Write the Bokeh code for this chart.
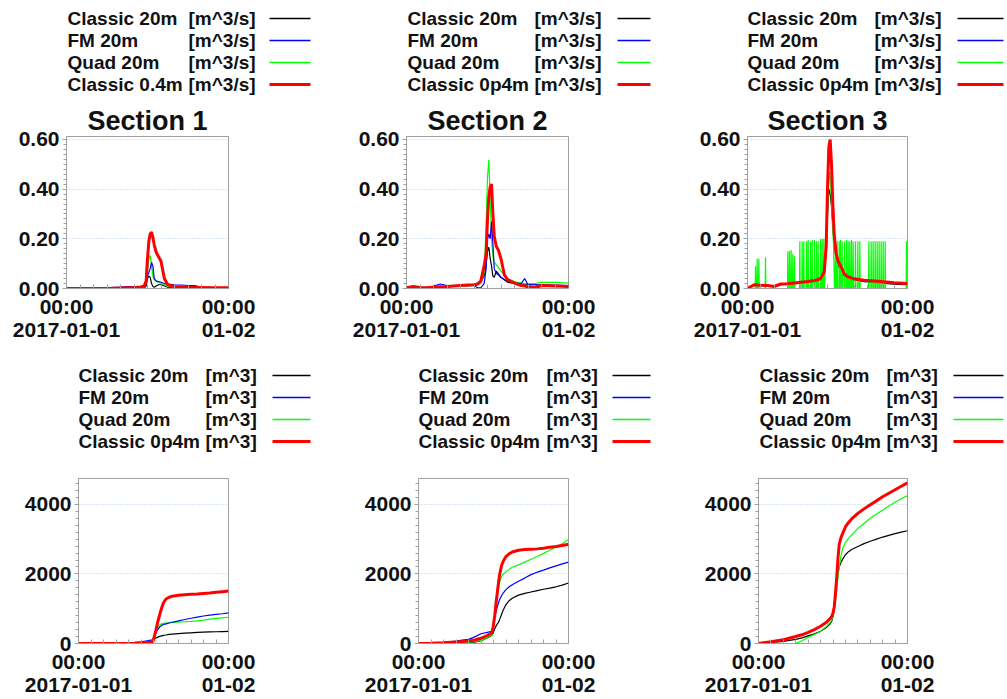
from bokeh.plotting import figure
from bokeh.models import Range1d, FixedTicker, ColumnDataSource
from bokeh.layouts import row, column
from bokeh.embed import file_html
from bokeh.resources import INLINE
from bokeh.core.properties import value

FONT = "Liberation Sans"

# ------------------------------------------------------------------ data
section_titles = ["Section 1", "Section 2", "Section 3"]
series_colors = ["#000000", "#0000ff", "#00ff00", "#ff0000"]
series_widths = [1.2, 1.2, 1.2, 3.0]
draw_order = [0, 2, 1, 3]
q_names = [
    ["Classic 20m", "FM 20m", "Quad 20m", "Classic 0.4m"],
    ["Classic 20m", "FM 20m", "Quad 20m", "Classic 0p4m"],
    ["Classic 20m", "FM 20m", "Quad 20m", "Classic 0p4m"],
]
q_unit = "[m^3/s]"
v_names = ["Classic 20m", "FM 20m", "Quad 20m", "Classic 0p4m"]
v_unit = "[m^3]"

x_tick_hours = [0, 24]
x_tick_labels = ["00:00\n2017-01-01", "00:00\n01-02"]
q_tick_values = [0, 0.2, 0.4, 0.6]
q_tick_labels = ["0.00", "0.20", "0.40", "0.60"]
v_tick_values = [0, 2000, 4000]
v_tick_labels = ["0", "2000", "4000"]

# discharge [m^3/s], hours since 2017-01-01 00:00
hours_q = [0, 1, 2, 3, 4, 5, 6, 7, 8, 9, 10, 10.5, 11, 11.5, 11.8, 12.0, 12.2, 12.4, 12.6, 12.8,
           13.0, 13.3, 13.6, 14.0, 14.5, 15, 16, 17, 17.5, 18, 19, 20, 22, 24]

s1_classic20 = [0, 0, 0, 0, 0, 0, 0, 0, 0, 0.001, 0.001, 0.001, 0.001, 0.002, 0.01, 0.04, 0.05, 0.045, 0.02, 0.008,
                0.005, 0.01, 0.015, 0.015, 0.01, 0.005, 0.003, 0.002, 0.002, 0.002, 0.002, 0.002, 0.002, 0.002]
s1_fm20 = [0, 0, 0, 0, 0, 0, 0.002, 0.005, 0.006, 0.008, 0.008, 0.008, 0.008, 0.01, 0.02, 0.05, 0.065, 0.08, 0.105, 0.09,
           0.04, 0.03, 0.028, 0.025, 0.02, 0.018, 0.015, 0.014, 0.013, 0.012, 0.012, 0.005, 0.004, 0.003]
s1_quad20 = [0, 0, 0, 0, 0, 0, 0, 0, 0, 0, 0.001, 0.002, 0.003, 0.005, 0.02, 0.07, 0.12, 0.133, 0.09, 0.05,
             0.035, 0.03, 0.025, 0.02, 0.015, 0.008, 0.005, 0.004, 0.004, 0.003, 0.003, 0.003, 0.003, 0.003]
s1_classic04 = [0, 0, 0, 0, 0, 0, 0, 0.001, 0.002, 0.003, 0.004, 0.005, 0.006, 0.01, 0.03, 0.12, 0.19, 0.22, 0.227, 0.205,
                0.175, 0.145, 0.13, 0.11, 0.04, 0.015, 0.008, 0.006, 0.005, 0.005, 0.004, 0.004, 0.003, 0.003]

s2_classic20 = [0.003, 0.004, 0.004, 0.005, 0.005, 0.006, 0.007, 0.008, 0.009, 0.01, 0.012, 0.015, 0.025, 0.05, 0.1, 0.15, 0.166, 0.12, 0.09, 0.05,
                0.045, 0.07, 0.06, 0.045, 0.035, 0.025, 0.02, 0.018, 0.016, 0.015, 0.015, 0.012, 0.01, 0.01]
s2_fm20 = [0, 0, 0, 0, 0.01, 0.018, 0.012, 0.012, 0.013, 0.014, 0.012, 0.003, 0.003, 0.02, 0.08, 0.2, 0.22, 0.2, 0.27, 0.18,
           0.08, 0.06, 0.055, 0.045, 0.035, 0.03, 0.022, 0.02, 0.04, 0.015, 0.015, 0.015, 0.014, 0.012]
s2_quad20 = [0.003, 0.003, 0.003, 0.004, 0.005, 0.006, 0.007, 0.009, 0.01, 0.011, 0.012, 0.015, 0.02, 0.06, 0.25, 0.45, 0.518, 0.35, 0.2, 0.13,
             0.105, 0.095, 0.085, 0.07, 0.055, 0.04, 0.028, 0.022, 0.02, 0.02, 0.02, 0.025, 0.025, 0.022]
s2_classic04 = [0.003, 0.008, 0.004, 0.003, 0.005, 0.007, 0.008, 0.01, 0.012, 0.014, 0.015, 0.018, 0.03, 0.09, 0.14, 0.28, 0.37, 0.41, 0.42, 0.3,
                0.21, 0.17, 0.155, 0.12, 0.055, 0.035, 0.022, 0.012, 0.01, 0.007, 0.003, 0.012, 0.01, 0.008]

s3_classic20 = [0, 0.012, 0.011, 0.01, 0.007, 0.015, 0.017, 0.019, 0.022, 0.025, 0.028, 0.031, 0.037, 0.058, 0.15, 0.3, 0.4, 0.38, 0.33, 0.25,
                0.18, 0.12, 0.09, 0.075, 0.05, 0.042, 0.035, 0.03, 0.028, 0.027, 0.024, 0.022, 0.018, 0.015]
s3_fm20 = [0] * 34
s3_classic04 = [0, 0.015, 0.013, 0.012, 0.008, 0.018, 0.019, 0.022, 0.025, 0.028, 0.032, 0.035, 0.042, 0.065, 0.17, 0.4, 0.57, 0.6, 0.5, 0.34,
                0.22, 0.14, 0.11, 0.09, 0.06, 0.048, 0.039, 0.035, 0.033, 0.032, 0.03, 0.028, 0.023, 0.02]
# Quad 20m at section 3 oscillates: a flood wave plus isolated spikes
s3_quad_wave_hours = [11.55, 11.7, 11.85, 12.0, 12.2, 12.35, 12.5, 12.7, 12.9, 13.05]
s3_quad_wave_values = [0.0, 0.1, 0.16, 0.3, 0.44, 0.47, 0.4, 0.28, 0.18, 0.0]
s3_quad_spike_hours = [1.2, 1.45, 1.7, 2.7,
                       6.05, 6.3, 6.55, 6.8, 7.05,
                       7.85, 8.2, 8.45, 8.85, 9.1, 9.45, 9.7, 10.05, 10.35, 10.6, 10.95, 11.2, 11.45,
                       13.2, 13.45, 13.75, 13.95, 14.2, 14.55, 14.85, 15.1, 15.35, 15.6, 15.85, 16.2, 16.55, 16.85,
                       18.2, 18.55, 18.85, 19.15, 19.45, 19.75, 20.05, 20.35, 20.65,
                       23.85]
s3_quad_spike_values = [0.09, 0.12, 0.12, 0.126,
                        0.15, 0.15, 0.155, 0.14, 0.13,
                        0.19, 0.19, 0.19, 0.19, 0.195, 0.19, 0.195, 0.195, 0.19, 0.19, 0.2, 0.2, 0.2,
                        0.19, 0.19, 0.19, 0.195, 0.19, 0.19, 0.195, 0.19, 0.19, 0.195, 0.19, 0.19, 0.19, 0.19,
                        0.19, 0.19, 0.19, 0.19, 0.19, 0.19, 0.19, 0.19, 0.19,
                        0.19]

# cumulative volume [m^3]
hours_v = [0, 2, 4, 6, 7, 8, 9, 10, 11, 11.5, 11.8, 12.0, 12.2, 12.4, 12.6, 12.8, 13.0, 13.3, 13.6, 14.0,
           14.5, 15, 16, 17, 18, 19, 20, 21, 22, 23, 24]

v1_classic20 = [0, 0, 0, 0, 0, 5, 15, 30, 50, 65, 80, 110, 140, 160, 175, 190, 205, 220, 235, 245,
                260, 270, 285, 298, 308, 318, 325, 332, 338, 344, 350]
v1_fm20 = [0, 0, 0, 0, 5, 15, 30, 50, 80, 95, 105, 150, 230, 310, 380, 430, 480, 520, 545, 565,
           590, 610, 650, 690, 725, 760, 790, 815, 835, 855, 880]
v1_quad20 = [0, 0, 0, 0, 0, 0, 10, 25, 50, 65, 80, 150, 260, 360, 440, 500, 540, 565, 580, 590,
             598, 605, 615, 625, 635, 650, 670, 700, 720, 738, 755]
v1_classic04 = [0, 0, 0, 0, 0, 2, 5, 10, 20, 35, 45, 110, 250, 400, 560, 700, 840, 1020, 1170, 1280,
                1330, 1360, 1385, 1400, 1415, 1425, 1440, 1450, 1470, 1490, 1510]

v2_classic20 = [0, 5, 10, 15, 20, 25, 40, 80, 160, 210, 250, 320, 420, 500, 560, 610, 700, 840, 980, 1120,
                1230, 1300, 1390, 1440, 1480, 1520, 1560, 1590, 1630, 1680, 1740]
v2_fm20 = [0, 15, 35, 70, 95, 120, 190, 280, 320, 340, 355, 560, 780, 900, 1050, 1170, 1270, 1380, 1460, 1550,
           1630, 1690, 1790, 1880, 1980, 2050, 2110, 2175, 2230, 2290, 2340]
v2_quad20 = [0, 5, 10, 15, 20, 30, 50, 90, 170, 220, 260, 500, 800, 1100, 1380, 1600, 1780, 1920, 2000, 2060,
             2130, 2190, 2260, 2340, 2420, 2500, 2590, 2680, 2770, 2870, 2990]
v2_classic04 = [0, 10, 25, 45, 55, 70, 100, 150, 230, 280, 320, 550, 800, 1150, 1450, 1750, 2000, 2250, 2380, 2500,
                2580, 2630, 2680, 2700, 2710, 2720, 2740, 2770, 2790, 2820, 2850]

v3_classic20 = [0, 30, 60, 120, 160, 220, 280, 350, 470, 560, 640, 780, 970, 1300, 1750, 2020, 2200, 2340, 2440, 2550,
                2640, 2700, 2790, 2870, 2940, 3000, 3060, 3110, 3160, 3200, 3240]
v3_fm20 = [0] * 31
v3_quad20 = [0, 0, 0, 5, 80, 175, 260, 350, 500, 600, 680, 780, 950, 1200, 1550, 1900, 2200, 2550, 2750, 2900,
             3020, 3120, 3310, 3450, 3600, 3720, 3830, 3950, 4060, 4160, 4250]
v3_classic04 = [0, 50, 110, 200, 250, 320, 400, 495, 620, 710, 780, 880, 1050, 1450, 1900, 2450, 2850, 3050, 3180, 3350,
                3480, 3580, 3740, 3870, 3990, 4100, 4220, 4320, 4420, 4520, 4620]


def quad_section3():
    pts = list(zip(s3_quad_wave_hours, s3_quad_wave_values))
    for h, v in zip(s3_quad_spike_hours, s3_quad_spike_values):
        pts += [(h - 0.05, 0.0), (h, v), (h + 0.05, 0.0)]
    pts += [(0.0, 0.0), (24.0, 0.0)]
    pts.sort()
    return [p[0] for p in pts], [p[1] for p in pts]


q3_h, q3_v = quad_section3()
q_series = [
    [(hours_q, s1_classic20), (hours_q, s1_fm20), (hours_q, s1_quad20), (hours_q, s1_classic04)],
    [(hours_q, s2_classic20), (hours_q, s2_fm20), (hours_q, s2_quad20), (hours_q, s2_classic04)],
    [(hours_q, s3_classic20), (hours_q, s3_fm20), (q3_h, q3_v), (hours_q, s3_classic04)],
]
v_series = [
    [(hours_v, v1_classic20), (hours_v, v1_fm20), (hours_v, v1_quad20), (hours_v, v1_classic04)],
    [(hours_v, v2_classic20), (hours_v, v2_fm20), (hours_v, v2_quad20), (hours_v, v2_classic04)],
    [(hours_v, v3_classic20), (hours_v, v3_fm20), (hours_v, v3_quad20), (hours_v, v3_classic04)],
]

# ------------------------------------------------------------------ layout / style
COL_W = [340, 340, 326]
TOP_LEG_H, TOP_PLOT_H, BOT_LEG_H, BOT_PLOT_H = 98, 252, 110, 238
GRAY = "#a0a0a0"


def legend_fig(width, height, names, unit, name_x, unit_x, line_x0, line_x1, y0):
    p = figure(width=width, height=height, x_range=Range1d(0, width), y_range=Range1d(height, 0),
               output_backend="svg", toolbar_location=None, min_border=0,
               x_axis_location=None, y_axis_location=None)
    p.grid.visible = False
    p.outline_line_color = None
    n = len(names)
    ys = [y0 + 22 * i for i in range(n)]
    src = ColumnDataSource(dict(nx=[name_x] * n, ux=[unit_x] * n, y=ys, name=names, unit=[unit] * n))
    for xcol, tcol in (("nx", "name"), ("ux", "unit")):
        p.text(x=xcol, y="y", text=tcol, source=src, text_font=value(FONT), text_font_style="bold",
               text_font_size="19px", text_baseline="middle", text_align="left", text_color="#111111")
    for y, c, w in zip(ys, series_colors, series_widths):
        p.line([line_x0, line_x1], [y, y], line_color=c, line_width=max(w, 1.5))
    return p


def plot_fig(width, height, borders, y_max, yticks, ylabels, yminor, series, title=None):
    l, r, t, b = borders
    kw = {}
    if title:
        kw["title"] = title
    p = figure(width=width, height=height, x_range=Range1d(0, 24), y_range=Range1d(0, y_max),
               output_backend="svg", toolbar_location=None,
               min_border_left=l, min_border_right=r, min_border_top=t, min_border_bottom=b, **kw)
    if title:
        p.title.text_font = FONT
        p.title.text_font_size = "27px"
        p.title.text_font_style = "bold"
        p.title.text_color = "#111111"
        p.title.align = "center"
        p.title.standoff = 2
    p.outline_line_color = GRAY
    p.xgrid.visible = False
    p.ygrid.grid_line_color = "#b0cff0"
    p.ygrid.grid_line_dash = "1 2"
    p.ygrid.grid_line_width = 1
    for i in draw_order:
        hx, vy = series[i]
        p.line(hx, vy, line_color=series_colors[i], line_width=series_widths[i])

    yax = p.yaxis[0]
    yax.ticker = FixedTicker(ticks=yticks, minor_ticks=yminor)
    yax.major_label_overrides = dict(zip(yticks, ylabels))
    xax = p.xaxis[0]
    xax.ticker = FixedTicker(ticks=x_tick_hours, minor_ticks=list(range(2, 24, 2)))
    xax.major_label_overrides = dict(zip(x_tick_hours, x_tick_labels))
    for ax in (xax, yax):
        ax.axis_line_color = GRAY
        ax.major_tick_line_color = GRAY
        ax.minor_tick_line_color = GRAY
        ax.major_label_text_font = FONT
        ax.major_label_text_font_style = "bold"
        ax.major_label_text_font_size = "21px"
        ax.major_label_text_color = "#111111"
        ax.major_label_text_line_height = 1.0
    yax.major_tick_out = 4
    yax.major_tick_in = 0
    yax.minor_tick_out = 3
    yax.minor_tick_in = 0
    yax.major_label_standoff = 3
    xax.major_tick_out = 0
    xax.major_tick_in = 0
    xax.minor_tick_out = 0
    xax.minor_tick_in = 4
    xax.major_label_standoff = 6
    return p


q_minor = [round(0.02 * i, 2) for i in range(31)]
v_minor = [200 * i for i in range(24)]

# horizontal geometry inside each column (px from the column's left edge)
top_left = [66, 66, 67]
top_frame_w = [162, 162, 160]
bot_left = [78, 78, 78]
bot_frame_w = [150, 150, 149]
top_name_x, top_unit_x, top_line_x0 = 67, [188, 194, 194], [269, 277, 277]
bot_name_x, bot_unit_x, bot_line_x0 = [78, 78, 79], [205, 206, 206], [272, 272, 273]
line_x1 = [310, 310, 323]
# vertical geometry
TOP_FRAME_TOP, TOP_FRAME_BOTTOM = 38, 190      # inside the top plot figure
BOT_FRAME_TOP, BOT_FRAME_BOTTOM = 18, 184      # inside the bottom plot figure
TOP_ROW0, BOT_ROW0 = 18, 25                    # first legend row inside legend figures

rows = [[], [], [], []]
for k in range(3):
    W = COL_W[k]
    rows[0].append(legend_fig(W, TOP_LEG_H, q_names[k], q_unit, top_name_x, top_unit_x[k],
                              top_line_x0[k], line_x1[k], TOP_ROW0))
    rows[1].append(plot_fig(W, TOP_PLOT_H,
                            (top_left[k], W - top_left[k] - top_frame_w[k], TOP_FRAME_TOP, TOP_PLOT_H - TOP_FRAME_BOTTOM),
                            0.612, q_tick_values, q_tick_labels, q_minor, q_series[k], title=section_titles[k]))
    rows[2].append(legend_fig(W, BOT_LEG_H, v_names, v_unit, bot_name_x[k], bot_unit_x[k],
                              bot_line_x0[k], line_x1[k], BOT_ROW0))
    rows[3].append(plot_fig(W, BOT_PLOT_H,
                            (bot_left[k], W - bot_left[k] - bot_frame_w[k], BOT_FRAME_TOP, BOT_PLOT_H - BOT_FRAME_BOTTOM),
                            4743, v_tick_values, v_tick_labels, v_minor, v_series[k]))

layout = column(*[row(*r, spacing=0) for r in rows], spacing=0)
open("out.html", "w").write(file_html(layout, INLINE))
